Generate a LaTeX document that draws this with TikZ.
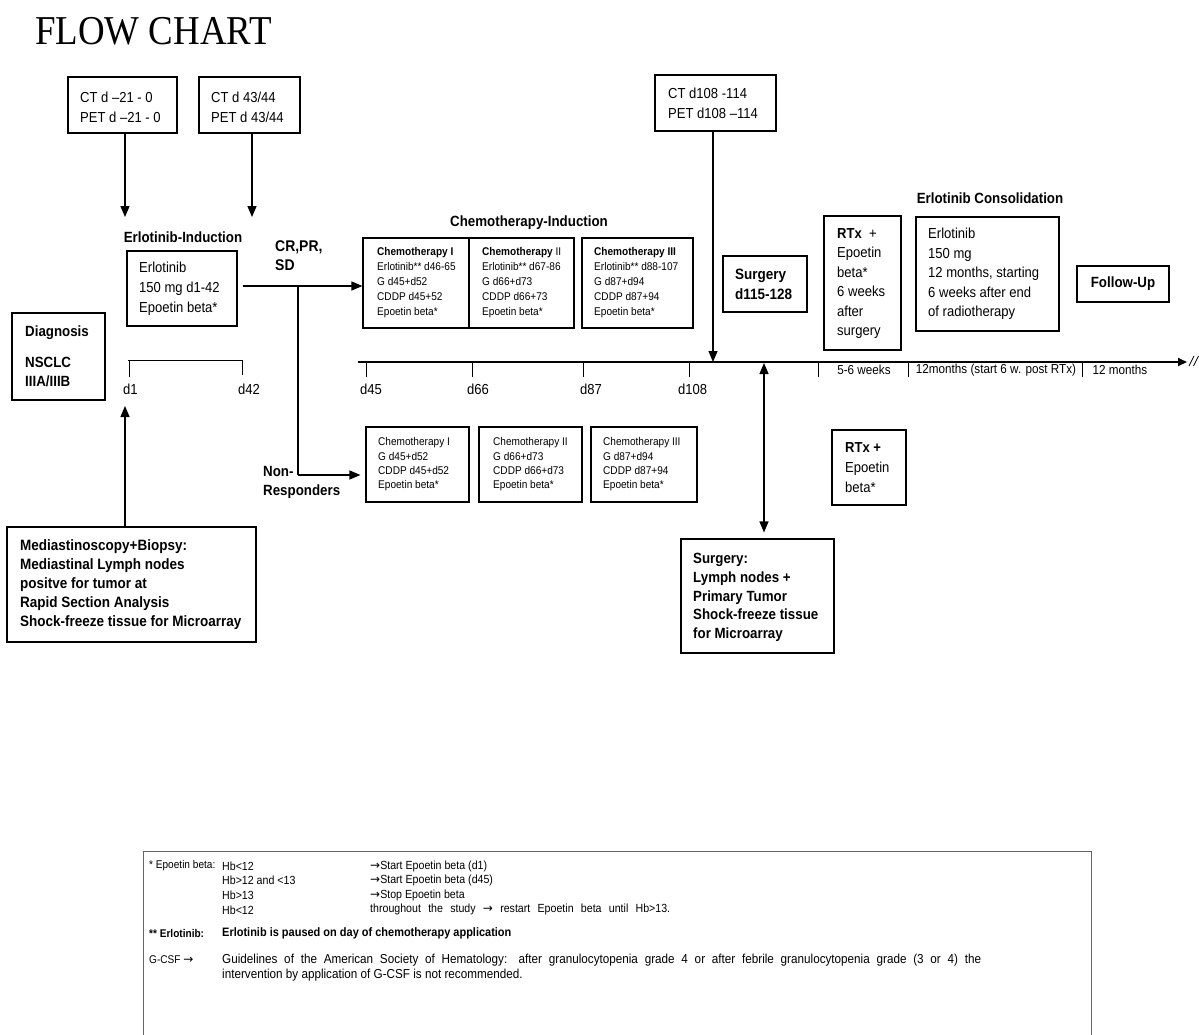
\documentclass[tikz,border=0pt]{standalone}
\usepackage{fontspec}
\setmainfont{Liberation Sans}[FakeStretch=0.9]
\newfontfamily\titlefont{Liberation Serif}[FakeStretch=0.9]
\newfontfamily\arrfont{DejaVu Sans}
\usetikzlibrary{arrows.meta,fit}
\newcommand\myfs[2]{\fontsize{#1}{#2}\selectfont}
\newcommand\rarr{{\arrfont\fontsize{12}{14}\selectfont →}}
\begin{document}
\begin{tikzpicture}[x=1pt,y=-1pt,
 box/.style={draw, line width=1.1pt, inner sep=0pt},
 txt/.style={inner sep=0pt, align=left, anchor=west, font=\myfs{14.5}{20}},
 btxt/.style={inner sep=0pt, align=left, anchor=west, font=\bfseries\myfs{14.8}{19.5}},
 stxt/.style={inner sep=0pt, align=left, anchor=west, font=\myfs{11.2}{15}},
 ntxt/.style={inner sep=0pt, align=left, anchor=west, font=\myfs{11.2}{14.3}},
 ltxt/.style={inner sep=0pt, align=left, anchor=west, font=\myfs{11.8}{14.6}},
 wtxt/.style={inner sep=0pt, anchor=center, font=\myfs{13}{14}},
 arr/.style={line width=1.3pt, -{Triangle[width=9pt,length=11pt]}},
 arrB/.style={line width=1.3pt, {Triangle[width=9pt,length=11pt]}-{Triangle[width=9pt,length=11pt]}},
 tick/.style={line width=0.9pt},
]
\useasboundingbox (0,0) rectangle (1199,1034);

% title
\node[anchor=base west, inner sep=0pt, font=\titlefont\myfs{41}{44}] (title) at (35,44) {FLOW CHART};

% CT boxes top left
\node[box, fit={(68,77)(177,133)}] (ct1) {};
\node[txt] (ct1t) at (80,107) {CT d –21 - 0\\PET d –21 - 0};
\node[box, fit={(199,77)(300,133)}] (ct2) {};
\node[txt] (ct2t) at (211,107) {CT d 43/44\\PET d 43/44};
\coordinate (a1) at (125,217);
\coordinate (a2) at (252,217);
\draw[arr] (ct1.south -| a1) -- (a1);
\draw[arr] (ct2.south -| a2) -- (a2);

% Erlotinib induction
\node[btxt, anchor=center] (erlind) at (183,237) {Erlotinib-Induction};
\node[box, fit={(127,251)(237,326)}] (erl) {};
\node[txt] (erlt) at (139,289) {Erlotinib\\150 mg d1-42\\Epoetin beta*};

% Chemotherapy induction
\node[btxt, anchor=center] (chemind) at (529,223) {Chemotherapy-Induction};
\node[box, fit={(363,238)(469,328)}] (c1) {};
\node[box, fit={(469,238)(574,328)}] (c2) {};
\node[box, fit={(582,238)(693,328)}] (c3) {};
\node[stxt] (c1t) at (377,283) {\textbf{Chemotherapy I}\\Erlotinib** d46-65\\G d45+d52\\CDDP d45+52\\Epoetin beta*};
\node[stxt] (c2t) at (482,283) {\textbf{Chemotherapy} II\\Erlotinib** d67-86\\G d66+d73\\CDDP d66+73\\Epoetin beta*};
\node[stxt] (c3t) at (594,283) {\textbf{Chemotherapy III}\\Erlotinib** d88-107\\G d87+d94\\CDDP d87+94\\Epoetin beta*};

% CR,PR,SD arrow and branch
\node[inner sep=0pt, align=left, anchor=west, font=\bfseries\myfs{15.5}{19}] (crpr) at (275,256) {CR,PR,\\SD};
\coordinate (br) at (298,286);
\coordinate (nrc) at (298,475);
\draw[arr] ([xshift=5pt]erl.east |- br) -- (c1.west |- br);
\draw[line width=1.3pt] (br) -- (nrc);

% Non-responders
\node[btxt] (nonresp) at (263,482.5) {Non-\\Responders};
\node[box, fit={(366,427)(469,502)}] (n1) {};
\node[box, fit={(479,427)(582,502)}] (n2) {};
\node[box, fit={(591,427)(697,502)}] (n3) {};
\draw[arr, shorten >=5pt] (nrc) -- (n1.west |- nrc);
\node[ntxt] (n1t) at (378,464.5) {Chemotherapy I\\G d45+d52\\CDDP d45+d52\\Epoetin beta*};
\node[ntxt] (n2t) at (493,464.5) {Chemotherapy II\\G d66+d73\\CDDP d66+d73\\Epoetin beta*};
\node[ntxt] (n3t) at (603,464.5) {Chemotherapy III\\G d87+d94\\CDDP d87+94\\Epoetin beta*};

% timeline
\coordinate (tl0) at (358,362);
\coordinate (tl1) at (1187,362);
\draw[line width=2pt, -{Triangle[width=8pt,length=9pt]}] (tl0) -- (tl1);
\foreach \xx in {366,472,583,689,818,908,1082} {\draw[tick] (\xx,362) -- (\xx,377);}
\node[txt] (d45) at (360,389) {d45};
\node[txt] (d66) at (467,389) {d66};
\node[txt] (d87) at (580,389) {d87};
\node[txt] (d108) at (678,389) {d108};
\node[wtxt] (w56) at (864,370) {5-6 weeks};
\node[wtxt] (m12a) at (996,370) {12months (start 6 w. post RTx)};
\node[wtxt] (m12b) at (1120,370) {12 months};
\draw[line width=0.8pt] (1189,366) -- (1194,356) (1193.5,366) -- (1198.5,356);

% d1-d42 bracket
\draw[tick] (128,360) -- (242,360);
\draw[tick] (129,360) -- (129,377);
\draw[tick] (242,360) -- (242,375);
\node[txt] (d1) at (123,389) {d1};
\node[txt] (d42) at (238,389) {d42};

% Diagnosis
\node[draw, line width=2.5pt, inner sep=0pt, fit={(12,313)(105,400)}] (diag) {};
\node[btxt] (diagt) at (25,333) {Diagnosis};
\node[btxt] (nsclc) at (25,372) {NSCLC\\IIIA/IIIB};

% Mediastinoscopy
\node[box, fit={(7,527)(256,642)}] (med) {};
\node[inner sep=0pt, align=left, anchor=west, font=\bfseries\myfs{15}{19}] (medt) at (20,585) {Mediastinoscopy+Biopsy:\\Mediastinal Lymph nodes\\positve for tumor at\\Rapid Section Analysis\\Shock-freeze tissue for Microarray};
\coordinate (d1a) at (125,406);
\draw[arr] (med.north -| d1a) -- (d1a);

% right side
\node[box, fit={(655,75)(776,131)}] (ct3) {};
\node[txt] (ct3t) at (668,103) {CT d108 -114\\PET d108 –114};
\coordinate (ctarr) at (713,362);
\draw[arr] (ct3.south -| ctarr) -- (ctarr);

\node[box, fit={(723,256)(807,312)}] (surg) {};
\node[btxt, font=\bfseries\myfs{15}{20}] (surgt) at (735,284) {Surgery\\d115-128};

\node[box, fit={(824,216)(901,350)}] (rtx) {};
\node[txt, font=\myfs{14.5}{19.4}] (rtxt) at (837,283.5) {\textbf{RTx}\ \ +\\Epoetin\\beta*\\6 weeks\\after\\surgery};

\node[btxt, anchor=center] (consl) at (990,198) {Erlotinib Consolidation};
\node[box, fit={(916,217)(1059,331)}] (cons) {};
\node[txt, font=\myfs{14.5}{19.5}] (const) at (928,274) {Erlotinib\\150 mg\\12 months, starting\\6 weeks after end\\of radiotherapy};

\node[box, fit={(1077,266)(1169,302)}] (fu) {};
\node[btxt, anchor=center] (fut) at (fu.center) {Follow-Up};

\node[box, fit={(681,539)(834,653)}] (surg2) {};
\node[btxt, font=\bfseries\myfs{14.8}{18.75}] (surg2t) at (693,597.5) {Surgery:\\Lymph nodes +\\Primary Tumor\\Shock-freeze tissue\\for Microarray};
\coordinate (dbl) at (764,363);
\draw[arrB, shorten >=6pt] (dbl) -- (surg2.north -| dbl);

\node[box, fit={(832,430)(906,505)}] (rtx2) {};
\node[txt] (rtx2t) at (845,468) {\textbf{RTx +}\\Epoetin\\beta*};

% legend
\draw[line width=1pt, black!60] (143,1040) -- (143,851) -- (1091,851) -- (1091,1040);
\node[ltxt, font=\myfs{11.2}{14.6}] (l1) at (149,866) {* Epoetin beta:};
\node[ltxt] (l2) at (222,888) {Hb<12\\Hb>12 and <13\\Hb>13\\Hb<12};
\node[ltxt] (l3) at (370,888) {\rarr Start Epoetin beta (d1)\\\rarr Start Epoetin beta (d45)\\\rarr Stop Epoetin beta\\\makebox[300pt][s]{throughout the study \rarr\ restart Epoetin beta until Hb>13.}};
\node[ltxt, font=\bfseries\myfs{11.2}{14.6}] (l4) at (149,933) {** Erlotinib:};
\node[ltxt, font=\bfseries\myfs{12.2}{14.6}] (l5) at (222,933) {Erlotinib is paused on day of chemotherapy application};
\node[ltxt, font=\myfs{11.2}{14.6}] (l6) at (149,960) {G-CSF \rarr};
\node[ltxt, font=\myfs{13}{14.6}, align=justify, text width=759pt] (l7) at (222,967.5) {Guidelines of the American Society of Hematology: after granulocytopenia grade 4 or after febrile granulocytopenia grade (3 or 4) the\linebreak intervention by application of G-CSF is not recommended.};
\end{tikzpicture}
\end{document}
